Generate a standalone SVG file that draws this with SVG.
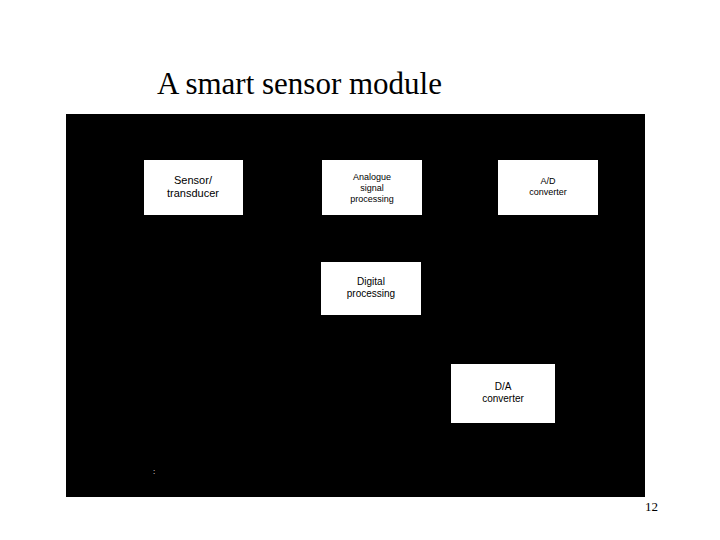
<svg xmlns="http://www.w3.org/2000/svg" width="720" height="540" viewBox="0 0 720 540">
<style>
.b{fill:#fff}
.t{font-family:"Liberation Sans",Arial,sans-serif;fill:#000;text-anchor:middle}
</style>
<rect width="720" height="540" fill="#fff"/>
<text x="157" y="94" font-family="Liberation Serif,serif" font-size="31">A smart sensor module</text>
<rect x="66" y="114" width="579" height="383" fill="#000"/>
<g id="sensor"><rect class="b" x="144" y="160" width="99" height="55"/><text class="t" font-size="11"><tspan x="193" y="184">Sensor/</tspan><tspan x="193" y="197">transducer</tspan></text></g>
<g id="analogue"><rect class="b" x="322" y="160" width="100" height="55"/><text class="t" font-size="9"><tspan x="372" y="180">Analogue</tspan><tspan x="372" y="191">signal</tspan><tspan x="372" y="202">processing</tspan></text></g>
<g id="ad"><rect class="b" x="498" y="160" width="100" height="55"/><text class="t" font-size="9"><tspan x="548" y="184">A/D</tspan><tspan x="548" y="195">converter</tspan></text></g>
<g id="digital"><rect class="b" x="321" y="262" width="100" height="53"/><text class="t" font-size="10"><tspan x="371" y="285">Digital</tspan><tspan x="371" y="297">processing</tspan></text></g>
<g id="da"><rect class="b" x="451" y="364" width="104" height="59"/><text class="t" font-size="10"><tspan x="503" y="390">D/A</tspan><tspan x="503" y="402">converter</tspan></text></g>
<g id="connectors"></g>
<text x="153" y="474" font-family="Liberation Sans,sans-serif" font-size="8" fill="#fff">:</text>
<text x="645" y="511" font-family="Liberation Serif,serif" font-size="13">12</text>
</svg>
